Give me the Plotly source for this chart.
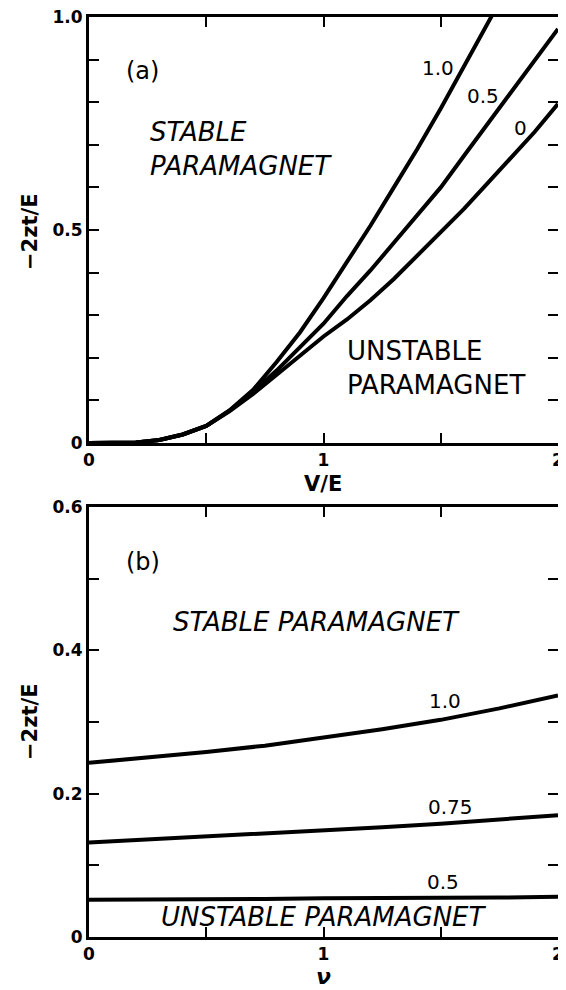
import plotly.graph_objects as go

# ---- Panel (a) data ----
v_over_e = [0, 0.1, 0.2, 0.3, 0.4, 0.5, 0.6, 0.7, 0.8, 0.9, 1.0, 1.1, 1.2, 1.3, 1.4, 1.5, 1.6, 1.7, 1.8, 1.9, 2.0]
a_nu_0 = [0, 0, 0.001, 0.007, 0.02, 0.04, 0.075, 0.115, 0.16, 0.205, 0.25, 0.29, 0.335, 0.385, 0.44, 0.495, 0.55, 0.61, 0.67, 0.73, 0.796]
a_nu_05 = [0, 0, 0.001, 0.007, 0.02, 0.04, 0.076, 0.12, 0.17, 0.225, 0.28, 0.345, 0.405, 0.47, 0.535, 0.6, 0.675, 0.75, 0.825, 0.9, 0.972]
a_nu_10 = [0, 0, 0.001, 0.007, 0.02, 0.04, 0.077, 0.125, 0.19, 0.26, 0.34, 0.425, 0.51, 0.6, 0.69, 0.785, 0.885, 0.985, 1.085, 1.185, 1.285]
a_labels = ["0", "0.5", "1.0"]

# ---- Panel (b) data ----
nu = [0, 0.25, 0.5, 0.75, 1.0, 1.25, 1.5, 1.75, 2.0]
b_ve_10 = [0.243, 0.250, 0.258, 0.267, 0.278, 0.290, 0.303, 0.319, 0.337]
b_ve_075 = [0.132, 0.136, 0.140, 0.144, 0.148, 0.153, 0.158, 0.164, 0.170]
b_ve_05 = [0.052, 0.052, 0.053, 0.053, 0.054, 0.054, 0.055, 0.055, 0.056]
b_labels = ["1.0", "0.75", "0.5"]

# page has an 8px body margin, so the figure is 8px smaller on each side
OFF = 8
W, H = 566 - OFF, 990 - OFF
LINE = dict(color="black", width=4)
FONT = "DejaVu Sans, Liberation Sans, sans-serif"


def px(x):
    return (x - OFF) / W


def py(y):
    return 1 - (y - OFF) / H


fig = go.Figure()
for ys in [a_nu_0, a_nu_05, a_nu_10]:
    fig.add_trace(go.Scatter(x=v_over_e, y=ys, mode="lines", line=LINE,
                             xaxis="x", yaxis="y", showlegend=False, hoverinfo="skip"))
for ys in [b_ve_10, b_ve_075, b_ve_05]:
    fig.add_trace(go.Scatter(x=nu, y=ys, mode="lines", line=LINE,
                             xaxis="x2", yaxis="y2", showlegend=False, hoverinfo="skip"))

MINOR = dict(ticks="inside", ticklen=10, tickwidth=2, tickcolor="black")
axis_common = dict(showline=True, linecolor="black", linewidth=3, mirror="ticks",
                   ticks="inside", ticklen=10, tickwidth=2, tickcolor="black",
                   showgrid=False, zeroline=False, automargin=False,
                   ticklabeloverflow="allow",
                   tickfont=dict(family=FONT, size=17, color="black", weight="bold"))

xdom = [px(89), px(558)]
fig.update_layout(
    width=W, height=H, margin=dict(l=0, r=0, t=0, b=0, pad=0, autoexpand=False),
    paper_bgcolor="white", plot_bgcolor="white",
    xaxis=dict(domain=xdom, range=[0, 2], anchor="y",
               tickvals=[0, 1, 2], ticktext=["0", "1", "2"],
               minor=dict(dtick=0.5, tick0=0, **MINOR), **axis_common),
    yaxis=dict(domain=[py(443), py(17)], range=[0, 1], anchor="x",
               tickvals=[0, 0.5, 1.0], ticktext=["0", "0.5", "1.0"],
               minor=dict(dtick=0.1, tick0=0, **MINOR), **axis_common),
    xaxis2=dict(domain=xdom, range=[0, 2], anchor="y2",
                tickvals=[0, 1, 2], ticktext=["0", "1", "2"],
                minor=dict(dtick=0.5, tick0=0, **MINOR), **axis_common),
    yaxis2=dict(domain=[py(937), py(507)], range=[0, 0.6], anchor="x2",
                tickvals=[0, 0.2, 0.4, 0.6], ticktext=["0", "0.2", "0.4", "0.6"],
                minor=dict(dtick=0.1, tick0=0, **MINOR), **axis_common),
)

TXT = dict(family=FONT, size=20, color="black")
BIG = dict(family=FONT, size=26, color="black")
ITAL = dict(family=FONT, size=26, color="black", style="italic")
ann = []
# panel a labels
ann.append(dict(x=0.23, y=0.873, xref="x", yref="y", text="(a)", showarrow=False,
                font=dict(family=FONT, size=24, color="black")))
ann.append(dict(x=0.25, y=0.69, xref="x", yref="y", text="STABLE<br>PARAMAGNET", showarrow=False,
                xanchor="left", align="left", font=ITAL))
ann.append(dict(x=1.09, y=0.176, xref="x", yref="y", text="UNSTABLE<br>PARAMAGNET", showarrow=False,
                xanchor="left", align="left", font=BIG))
for lx, ly, t in zip([1.84, 1.68, 1.49], [0.74, 0.815, 0.88], a_labels):
    ann.append(dict(x=lx, y=ly, xref="x", yref="y", text=t, showarrow=False, font=TXT))
# panel b labels
ann.append(dict(x=0.23, y=0.523, xref="x2", yref="y2", text="(b)", showarrow=False,
                font=dict(family=FONT, size=24, color="black")))
ann.append(dict(x=0.97, y=0.44, xref="x2", yref="y2", text="STABLE PARAMAGNET", showarrow=False, font=ITAL))
ann.append(dict(x=1.0, y=0.028, xref="x2", yref="y2", text="UNSTABLE PARAMAGNET", showarrow=False, font=ITAL))
for lx, ly, t in zip([1.52, 1.54, 1.51], [0.33, 0.181, 0.077], b_labels):
    ann.append(dict(x=lx, y=ly, xref="x2", yref="y2", text=t, showarrow=False, font=TXT))
# axis titles
TFONT = dict(family=FONT, size=21, color="black", weight="bold")
for yc in [232, 722]:
    ann.append(dict(x=px(30), y=py(yc), xref="paper", yref="paper", text="−2zt/E", textangle=-90,
                    xanchor="center", yanchor="middle", showarrow=False, font=TFONT))
ann.append(dict(x=px(323), y=py(484), xref="paper", yref="paper", text="V/E",
                xanchor="center", yanchor="middle", showarrow=False, font=TFONT))
ann.append(dict(x=px(323), y=py(976), xref="paper", yref="paper", text="ν",
                xanchor="center", yanchor="middle", showarrow=False,
                font=dict(family=FONT, size=22, color="black", weight="bold", style="italic")))
fig.update_layout(annotations=ann)

fig.write_html("out.html")
